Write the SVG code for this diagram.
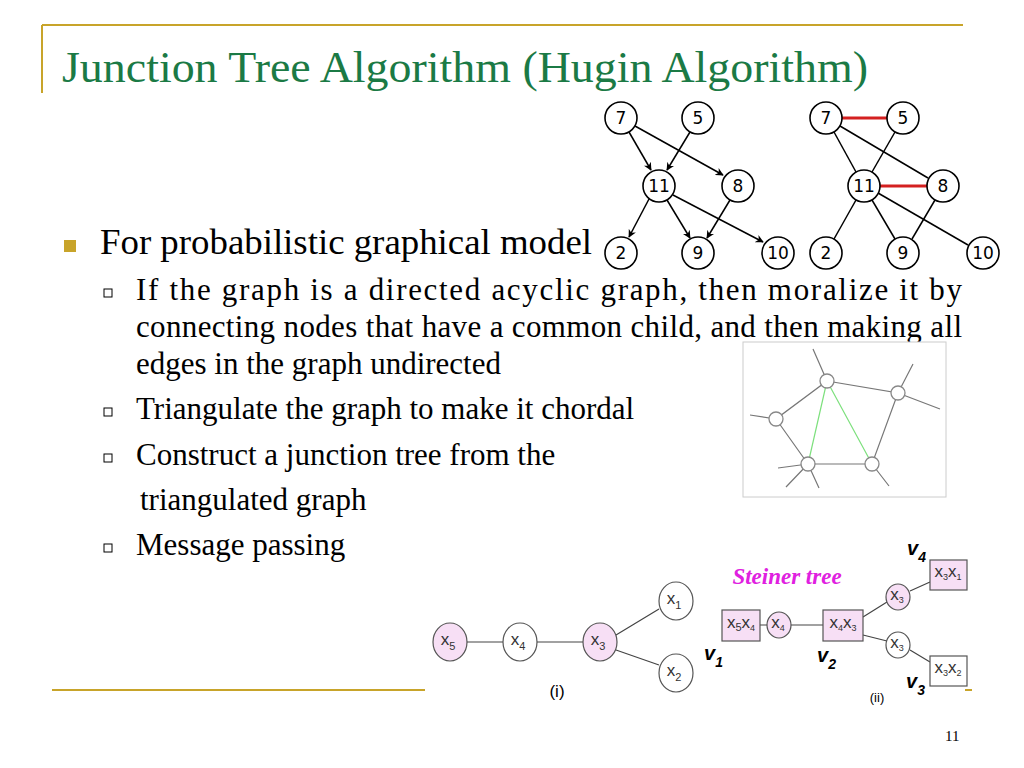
<svg xmlns="http://www.w3.org/2000/svg" width="1024" height="768" viewBox="0 0 1024 768">
<style>
.t{font-family:"Liberation Serif",serif;fill:#000}
.n{fill:#fff;stroke:#000;stroke-width:1.6}
.nl{font-family:"DejaVu Sans",sans-serif;font-size:17px;text-anchor:middle}
.e{stroke:#000;stroke-width:1.5;fill:none}
.sb{fill:#fff;stroke:#000;stroke-width:1}
.pk{fill:#f7dff5;stroke:#555;stroke-width:1.2}
.wh{fill:#fff;stroke:#555;stroke-width:1.2}
.xl{font-family:"Liberation Sans",sans-serif;font-size:17px;text-anchor:middle;fill:#333}
.sx{font-size:11px}
.v{font-family:"Liberation Sans",sans-serif;font-size:20px;font-weight:bold;font-style:italic}
.g{stroke:#777;stroke-width:1.2;fill:none}
.gn{fill:#fff;stroke:#888;stroke-width:1.3}
</style>
<defs>
<marker id="a" viewBox="0 0 10 10" refX="9" refY="5" markerWidth="8" markerHeight="8" orient="auto" markerUnits="userSpaceOnUse"><path d="M0,0L10,5L0,10L3,5z" fill="#000"/></marker>
</defs>
<rect width="1024" height="768" fill="#fff"/>
<path d="M42,25H963M42,25V93" stroke="#c8a42a" stroke-width="2"/>
<path d="M52,690H425M965,690H972" stroke="#c8a42a" stroke-width="2"/>
<text x="62" y="82" class="t" font-size="45" style="fill:#1b7a45" textLength="806" lengthAdjust="spacingAndGlyphs">Junction Tree Algorithm (Hugin Algorithm)</text>
<rect x="64" y="240" width="12" height="12" fill="#c8a42a"/>
<text x="100" y="254" class="t" font-size="36" textLength="492" lengthAdjust="spacingAndGlyphs">For probabilistic graphical model</text>
<g class="t" font-size="31">
<rect class="sb" x="104" y="289" width="8" height="8"/>
<text x="136" y="300" textLength="826" lengthAdjust="spacing">If the graph is a directed acyclic graph, then moralize it by</text>
<text x="136" y="337" textLength="826" lengthAdjust="spacing">connecting nodes that have a common child, and then making all</text>
<text x="136" y="374">edges in the graph undirected</text>
<rect class="sb" x="104" y="408" width="8" height="8"/>
<text x="136" y="419">Triangulate the graph to make it chordal</text>
<rect class="sb" x="104" y="454" width="8" height="8"/>
<text x="136" y="465">Construct a junction tree from the</text>
<text x="140" y="510">triangulated graph</text>
<rect class="sb" x="104" y="544" width="8" height="8"/>
<text x="136" y="555">Message passing</text>
</g>
<text x="945" y="741" class="t" font-size="15">11</text>
<g id="connectors">
<g class="e" marker-end="url(#a)">
<line x1="629" y1="132" x2="651" y2="170"/>
<line x1="690" y1="132" x2="667" y2="170"/>
<line x1="635" y1="126" x2="723" y2="175"/>
<line x1="649" y1="199" x2="629" y2="237"/>
<line x1="667" y1="200" x2="690" y2="238"/>
<line x1="730" y1="200" x2="707" y2="238"/>
<line x1="673" y1="195" x2="763" y2="242"/>
</g>
<g class="e">
<line x1="834" y1="132" x2="856" y2="172"/>
<line x1="895" y1="132" x2="872" y2="172"/>
<line x1="840" y1="126" x2="928" y2="178"/>
<line x1="856" y1="200" x2="834" y2="239"/>
<line x1="872" y1="200" x2="895" y2="239"/>
<line x1="935" y1="200" x2="912" y2="239"/>
<line x1="878" y1="193" x2="968" y2="245"/>
</g>
<line x1="842" y1="118" x2="887" y2="118" stroke="#d42020" stroke-width="3"/>
<line x1="880" y1="186" x2="927" y2="186" stroke="#d42020" stroke-width="3"/>
</g>
<g id="n7"><circle class="n" cx="621" cy="118" r="16"/><text class="nl" x="621" y="124">7</text></g>
<g id="n5"><circle class="n" cx="698" cy="118" r="16"/><text class="nl" x="698" y="124">5</text></g>
<g id="n11"><circle class="n" cx="659" cy="186" r="16"/><text class="nl" x="659" y="192">11</text></g>
<g id="n8"><circle class="n" cx="738" cy="186" r="16"/><text class="nl" x="738" y="192">8</text></g>
<g id="n2"><circle class="n" cx="621" cy="253" r="16"/><text class="nl" x="621" y="259">2</text></g>
<g id="n9"><circle class="n" cx="698" cy="253" r="16"/><text class="nl" x="698" y="259">9</text></g>
<g id="n10"><circle class="n" cx="778" cy="253" r="16"/><text class="nl" x="778" y="259">10</text></g>
<g id="m7"><circle class="n" cx="826" cy="118" r="16"/><text class="nl" x="826" y="124">7</text></g>
<g id="m5"><circle class="n" cx="903" cy="118" r="16"/><text class="nl" x="903" y="124">5</text></g>
<g id="m11"><circle class="n" cx="864" cy="186" r="16"/><text class="nl" x="864" y="192">11</text></g>
<g id="m8"><circle class="n" cx="943" cy="186" r="16"/><text class="nl" x="943" y="192">8</text></g>
<g id="m2"><circle class="n" cx="826" cy="253" r="16"/><text class="nl" x="826" y="259">2</text></g>
<g id="m9"><circle class="n" cx="903" cy="253" r="16"/><text class="nl" x="903" y="259">9</text></g>
<g id="m10"><circle class="n" cx="983" cy="253" r="16"/><text class="nl" x="983" y="259">10</text></g>
<rect x="743" y="342" width="203" height="155" fill="#fff" stroke="#ccc"/>
<g class="g">
<path d="M827,381L813,349M898,393L913,364M898,393L940,409M776,419L750,415M808,464L778,468M808,464L786,487M808,464L819,488M872,464L889,486"/>
<path d="M827,381L898,393L872,464L808,464L776,419Z"/>
</g>
<path d="M827,381L808,464M827,381L872,464" stroke="#7de07d" stroke-width="1.2" fill="none"/>
<g id="p1"><circle class="gn" cx="827" cy="381" r="7"/></g>
<g id="p2"><circle class="gn" cx="898" cy="393" r="7"/></g>
<g id="p3"><circle class="gn" cx="776" cy="419" r="7"/></g>
<g id="p4"><circle class="gn" cx="808" cy="464" r="7"/></g>
<g id="p5"><circle class="gn" cx="872" cy="464" r="7"/></g>
<path d="M467,642H503M537,642H583M616,635L659,609M616,650L659,665M760,625H767M791,625H823M863,617L887,602M863,635L887,641M910,591L930,582M910,650L930,662" stroke="#444" stroke-width="1.2" fill="none"/>
<g id="x5"><ellipse class="pk" cx="450" cy="642" rx="17" ry="19"/><text class="xl" x="448" y="645">x<tspan class="sx" dy="5">5</tspan></text></g>
<g id="x4"><ellipse class="wh" cx="520" cy="642" rx="17" ry="19"/><text class="xl" x="518" y="645">x<tspan class="sx" dy="5">4</tspan></text></g>
<g id="x3"><ellipse class="pk" cx="600" cy="642" rx="17" ry="19"/><text class="xl" x="598" y="645">x<tspan class="sx" dy="5">3</tspan></text></g>
<g id="x1"><ellipse class="wh" cx="676" cy="601" rx="17" ry="19"/><text class="xl" x="674" y="604">x<tspan class="sx" dy="5">1</tspan></text></g>
<g id="x2"><ellipse class="wh" cx="676" cy="673" rx="17" ry="19"/><text class="xl" x="674" y="676">x<tspan class="sx" dy="5">2</tspan></text></g>
<text x="557" y="697" font-family="Liberation Sans,sans-serif" font-size="17" text-anchor="middle">(i)</text>
<g id="b54"><rect class="pk" x="722" y="610" width="38" height="31"/><text class="xl" x="741" y="628" font-size="13">x<tspan class="sx" font-size="9" dy="3">5</tspan><tspan dy="-3">x</tspan><tspan font-size="9" dy="3">4</tspan></text></g>
<g id="c4"><ellipse class="pk" cx="779" cy="625" rx="12" ry="13"/><text class="xl" x="778" y="628" font-size="12">x<tspan font-size="9" dy="3">4</tspan></text></g>
<g id="b43"><rect class="pk" x="823" y="610" width="40" height="31"/><text class="xl" x="843" y="628" font-size="13">x<tspan font-size="9" dy="3">4</tspan><tspan dy="-3">x</tspan><tspan font-size="9" dy="3">3</tspan></text></g>
<g id="c3a"><ellipse class="pk" cx="898" cy="597" rx="12" ry="13"/><text class="xl" x="897" y="600" font-size="12">x<tspan font-size="9" dy="3">3</tspan></text></g>
<g id="b31"><rect class="pk" x="930" y="560" width="37" height="30"/><text class="xl" x="948" y="577" font-size="13">x<tspan font-size="9" dy="3">3</tspan><tspan dy="-3">x</tspan><tspan font-size="9" dy="3">1</tspan></text></g>
<g id="c3b"><ellipse class="wh" cx="898" cy="645" rx="12" ry="13"/><text class="xl" x="897" y="648" font-size="12">x<tspan font-size="9" dy="3">3</tspan></text></g>
<g id="b32"><rect class="wh" x="930" y="656" width="37" height="30"/><text class="xl" x="948" y="673" font-size="13">x<tspan font-size="9" dy="3">3</tspan><tspan dy="-3">x</tspan><tspan font-size="9" dy="3">2</tspan></text></g>
<text class="v" x="704" y="660">v<tspan font-size="14" dy="7">1</tspan></text>
<text class="v" x="817" y="662">v<tspan font-size="14" dy="7">2</tspan></text>
<text class="v" x="906" y="688">v<tspan font-size="14" dy="7">3</tspan></text>
<text class="v" x="907" y="555">v<tspan font-size="14" dy="7">4</tspan></text>
<text x="877" y="702" font-family="Liberation Sans,sans-serif" font-size="13" text-anchor="middle">(ii)</text>
<text x="787" y="584" font-family="Liberation Serif,serif" font-size="23" font-weight="bold" font-style="italic" fill="#e020e0" text-anchor="middle">Steiner tree</text>
</svg>
